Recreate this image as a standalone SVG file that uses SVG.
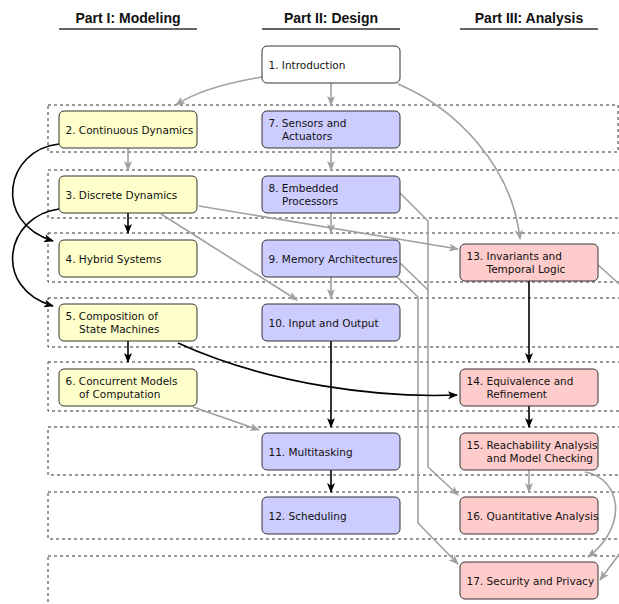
<svg xmlns="http://www.w3.org/2000/svg" width="619" height="604" viewBox="0 0 619 604">
<style>
.hdr{font-family:"Liberation Sans",Arial,sans-serif;font-weight:bold;font-size:14px;fill:#111;text-anchor:middle}
.ul{stroke:#666;stroke-width:2}
.row{fill:none;stroke:#333;stroke-width:1;stroke-dasharray:3 3}
.box{stroke:#333;stroke-width:1}
.y{fill:#ffffcc}.b{fill:#ccccff}.p{fill:#ffcccc}.w{fill:#fff}
.t{font-family:"DejaVu Sans",Verdana,sans-serif;font-size:10.5px;fill:#111}
.g{fill:none;stroke:#a0a0a0;stroke-width:1.6;marker-end:url(#ag)}
.gl{fill:none;stroke:#a0a0a0;stroke-width:1.6}
.k{fill:none;stroke:#000;stroke-width:1.6;marker-end:url(#ak)}
</style>
<defs>
<marker id="ag" viewBox="0 0 10 8" refX="9" refY="4" markerWidth="11" markerHeight="8" markerUnits="userSpaceOnUse" orient="auto"><path d="M0,0 L10,4 L0,8 L2.5,4 z" fill="#a0a0a0"/></marker>
<marker id="ak" viewBox="0 0 10 8" refX="9" refY="4" markerWidth="11" markerHeight="8" markerUnits="userSpaceOnUse" orient="auto"><path d="M0,0 L10,4 L0,8 L2.5,4 z" fill="#000"/></marker>
</defs>
<g id="headers">
<text class="hdr" x="128" y="23">Part I: Modeling</text>
<line class="ul" x1="59" y1="29" x2="197" y2="29"/>
<text class="hdr" x="331" y="23">Part II: Design</text>
<line class="ul" x1="262" y1="29" x2="400" y2="29"/>
<text class="hdr" x="529" y="23">Part III: Analysis</text>
<line class="ul" x1="460" y1="29" x2="598" y2="29"/>
</g>
<g id="rows">
<rect class="row" x="48" y="105" width="570" height="47"/>
<rect class="row" x="48" y="170" width="600" height="48"/>
<rect class="row" x="48" y="233" width="600" height="49"/>
<rect class="row" x="48" y="298" width="600" height="49"/>
<rect class="row" x="48" y="362" width="600" height="49"/>
<rect class="row" x="48" y="427" width="600" height="48"/>
<rect class="row" x="48" y="492" width="600" height="47"/>
<rect class="row" x="48" y="556" width="600" height="80"/>
</g>
<g id="connectors">
<path class="g" d="M262,77 C232,82 198,90 176,105"/>
<path class="g" d="M331,83 L331,105"/>
<path class="g" d="M398,84 C455,108 512,165 520,239"/>
<path class="g" d="M128,148 L128,170"/>
<path class="g" d="M331,148 L331,170"/>
<path class="g" d="M331,212 L331,233"/>
<path class="g" d="M331,276 L331,298"/>
<path class="g" d="M199,206 L458,249"/>
<path class="g" d="M161,214 L297,300"/>
<path class="g" d="M193,407 L259,430"/>
<path class="g" d="M400,193 L428,221 L428,467 L458,495"/>
<path class="gl" d="M400,263 L428,290"/>
<path class="g" d="M397,277 L418,297 L418,523 L458,564"/>
<path class="g" d="M598,265 L626,290 L626,545 L600,580"/>
<path class="g" d="M585,472 C620,478 630,525 588,557"/>
<path class="g" d="M529,470 L529,492"/>
<path class="k" d="M59,144 C5,150 -8,222 53,241"/>
<path class="k" d="M59,209 C5,216 -8,288 53,306"/>
<path class="k" d="M128,213 L128,233"/>
<path class="k" d="M128,341 L128,362"/>
<path class="k" d="M178,343 C270,385 380,398 457,395"/>
<path class="k" d="M331,341 L331,427"/>
<path class="k" d="M331,470 L331,492"/>
<path class="k" d="M529,280 L529,362"/>
<path class="k" d="M529,405 L529,427"/>
</g>
<g id="n1"><rect class="box w" x="262" y="46" width="138" height="37" rx="5"/><text class="t" x="268.5" y="68.5">1. Introduction</text></g>
<g id="n2"><rect class="box y" x="59" y="111" width="138" height="37" rx="5"/><text class="t" x="65.5" y="133.5">2. Continuous Dynamics</text></g>
<g id="n3"><rect class="box y" x="59" y="176" width="138" height="37" rx="5"/><text class="t" x="65.5" y="198.5">3. Discrete Dynamics</text></g>
<g id="n4"><rect class="box y" x="59" y="240" width="138" height="37" rx="5"/><text class="t" x="65.5" y="262.5">4. Hybrid Systems</text></g>
<g id="n5"><rect class="box y" x="59" y="304" width="138" height="37" rx="5"/><text class="t" x="65.5" y="319.5">5. Composition of<tspan x="79" y="332.5">State Machines</tspan></text></g>
<g id="n6"><rect class="box y" x="59" y="369" width="138" height="37" rx="5"/><text class="t" x="65.5" y="384.5">6. Concurrent Models<tspan x="79" y="397.5">of Computation</tspan></text></g>
<g id="n7"><rect class="box b" x="262" y="111" width="138" height="37" rx="5"/><text class="t" x="268.5" y="126.5">7. Sensors and<tspan x="282" y="139.5">Actuators</tspan></text></g>
<g id="n8"><rect class="box b" x="262" y="176" width="138" height="37" rx="5"/><text class="t" x="268.5" y="191.5">8. Embedded<tspan x="282" y="204.5">Processors</tspan></text></g>
<g id="n9"><rect class="box b" x="262" y="240" width="138" height="37" rx="5"/><text class="t" x="268.5" y="262.5">9. Memory Architectures</text></g>
<g id="n10"><rect class="box b" x="262" y="304" width="138" height="37" rx="5"/><text class="t" x="268.5" y="326.5">10. Input and Output</text></g>
<g id="n11"><rect class="box b" x="262" y="433" width="138" height="37" rx="5"/><text class="t" x="268.5" y="455.5">11. Multitasking</text></g>
<g id="n12"><rect class="box b" x="262" y="497" width="138" height="37" rx="5"/><text class="t" x="268.5" y="519.5">12. Scheduling</text></g>
<g id="n13"><rect class="box p" x="460" y="244" width="138" height="37" rx="5"/><text class="t" x="466.5" y="259.5">13. Invariants and<tspan x="486.5" y="272.5">Temporal Logic</tspan></text></g>
<g id="n14"><rect class="box p" x="460" y="369" width="138" height="37" rx="5"/><text class="t" x="466.5" y="384.5">14. Equivalence and<tspan x="486.5" y="397.5">Refinement</tspan></text></g>
<g id="n15"><rect class="box p" x="460" y="433" width="138" height="37" rx="5"/><text class="t" x="466.5" y="448.5">15. Reachability Analysis<tspan x="486.5" y="461.5">and Model Checking</tspan></text></g>
<g id="n16"><rect class="box p" x="460" y="497" width="138" height="37" rx="5"/><text class="t" x="466.5" y="519.5">16. Quantitative Analysis</text></g>
<g id="n17"><rect class="box p" x="460" y="562" width="138" height="37" rx="5"/><text class="t" x="466.5" y="584.5">17. Security and Privacy</text></g>
</svg>
